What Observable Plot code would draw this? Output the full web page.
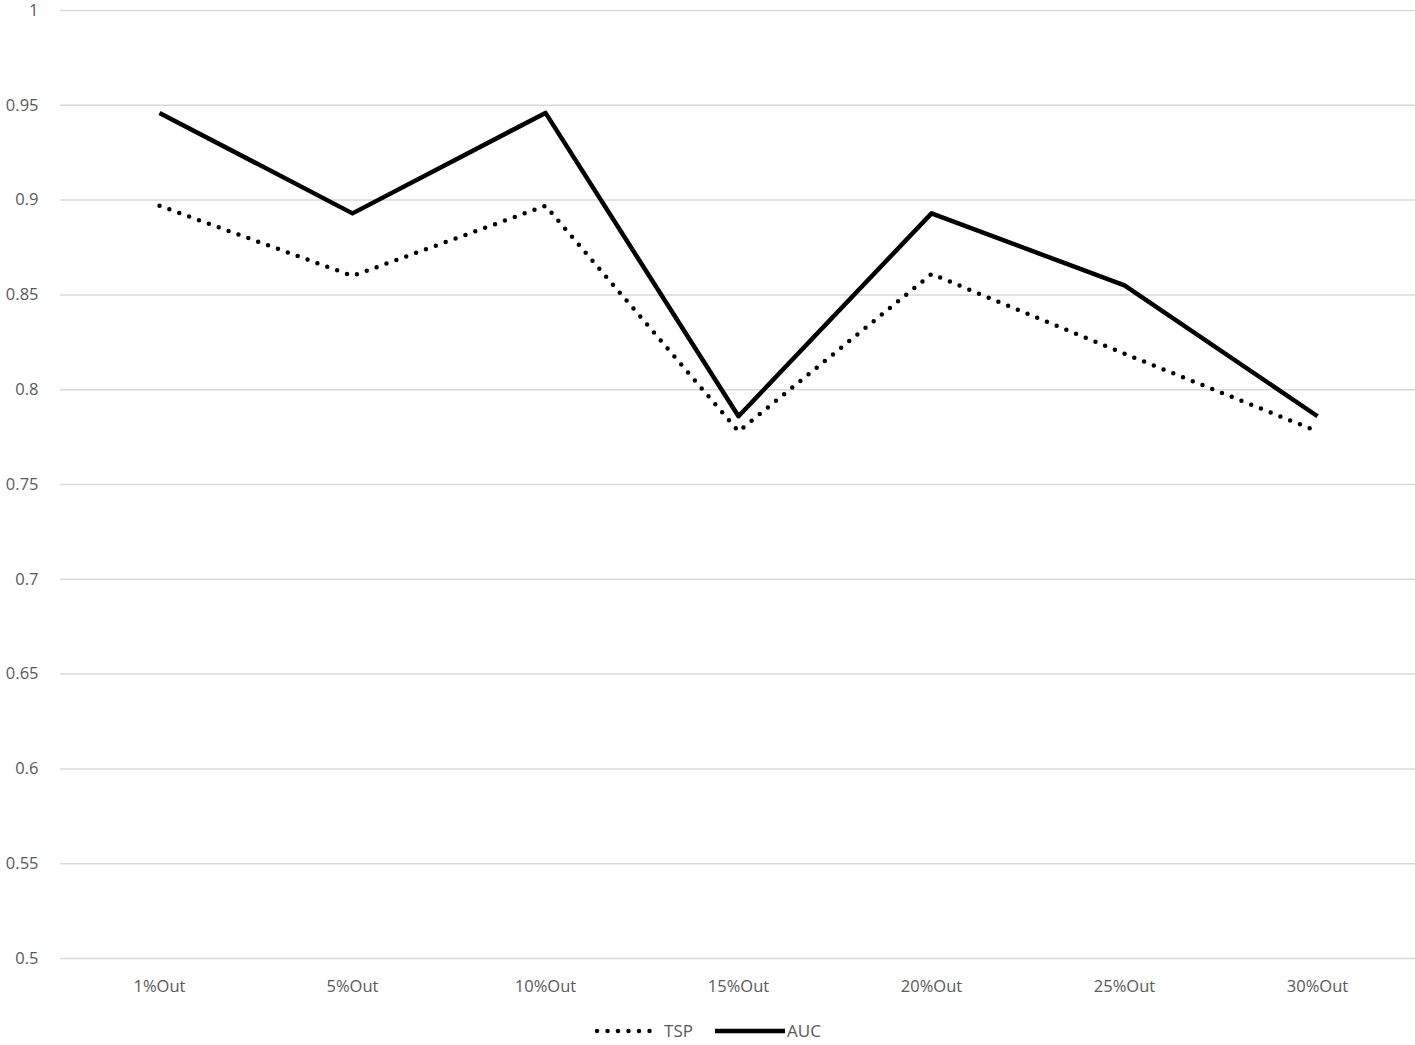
<!DOCTYPE html>
<html>
<head>
<meta charset="utf-8">
<script src="https://cdn.jsdelivr.net/npm/d3@7"></script>
<script src="https://cdn.jsdelivr.net/npm/@observablehq/plot@0.6"></script>
<style>
  body { margin: 0; background: #fff; font-family: "Open Sans", "Noto Sans", sans-serif; }
  #chart svg { overflow: visible; display: block; }
  #legend { display: flex; justify-content: center; align-items: center; height: 26px; margin-top: 6px; font-size: 17px; line-height: 20px; color: #595959; }
  #legend svg { display: block; }
</style>
</head>
<body>
<div id="chart"></div>
<div id="legend"></div>
<script>
const categories = ["1%Out", "5%Out", "10%Out", "15%Out", "20%Out", "25%Out", "30%Out"];
const tsp = [0.897, 0.860, 0.897, 0.778, 0.861, 0.819, 0.778];
const auc = [0.946, 0.893, 0.946, 0.786, 0.893, 0.855, 0.786];
const yTicks = [0.5, 0.55, 0.6, 0.65, 0.7, 0.75, 0.8, 0.85, 0.9, 0.95, 1];

const data = [];
categories.forEach((c, i) => {
  data.push({cat: c, series: "TSP", value: tsp[i]});
  data.push({cat: c, series: "AUC", value: auc[i]});
});

const fmt = d => String(+d.toFixed(2));

const chart = Plot.plot({
  width: 1415,
  height: 1012,
  marginTop: 10,
  marginBottom: 54,
  marginLeft: 60,
  marginRight: 0,
  style: {fontFamily: "'Open Sans', 'Noto Sans', sans-serif", fontSize: "16.5px", color: "#595959", background: "#fff"},
  x: {type: "point", domain: categories, padding: 0.5, label: null},
  y: {domain: [0.5, 1], label: null},
  marks: [
    Plot.gridY(yTicks, {stroke: "#d9d9d9", strokeOpacity: 1, strokeWidth: 1.5}),
    Plot.axisX({tickSize: 0, tickPadding: 22, fill: "#595959", fontSize: 16.5, label: null}),
    Plot.axisY(yTicks, {tickSize: 0, tickPadding: 22, fill: "#595959", fontSize: 16.5, tickFormat: fmt, label: null}),
    Plot.line(data.filter(d => d.series === "TSP"), {x: "cat", y: "value", stroke: "#000", strokeWidth: 4.5, strokeDasharray: "0 10.5", strokeLinecap: "round"}),
    Plot.line(data.filter(d => d.series === "AUC"), {x: "cat", y: "value", stroke: "#000", strokeWidth: 4.5, strokeLinecap: "butt"})
  ]
});
document.getElementById("chart").appendChild(chart);

const legend = document.getElementById("legend");
legend.innerHTML = `
<svg width="62" height="20"><line x1="3" y1="10" x2="58" y2="10" stroke="#000" stroke-width="4.5" stroke-dasharray="0 10.5" stroke-linecap="round"/></svg>
<span style="margin-left:8px;margin-right:22px">TSP</span>
<svg width="70" height="20"><line x1="0" y1="10" x2="70" y2="10" stroke="#000" stroke-width="4.5"/></svg>
<span style="margin-left:2px">AUC</span>`;
</script>
</body>
</html>
